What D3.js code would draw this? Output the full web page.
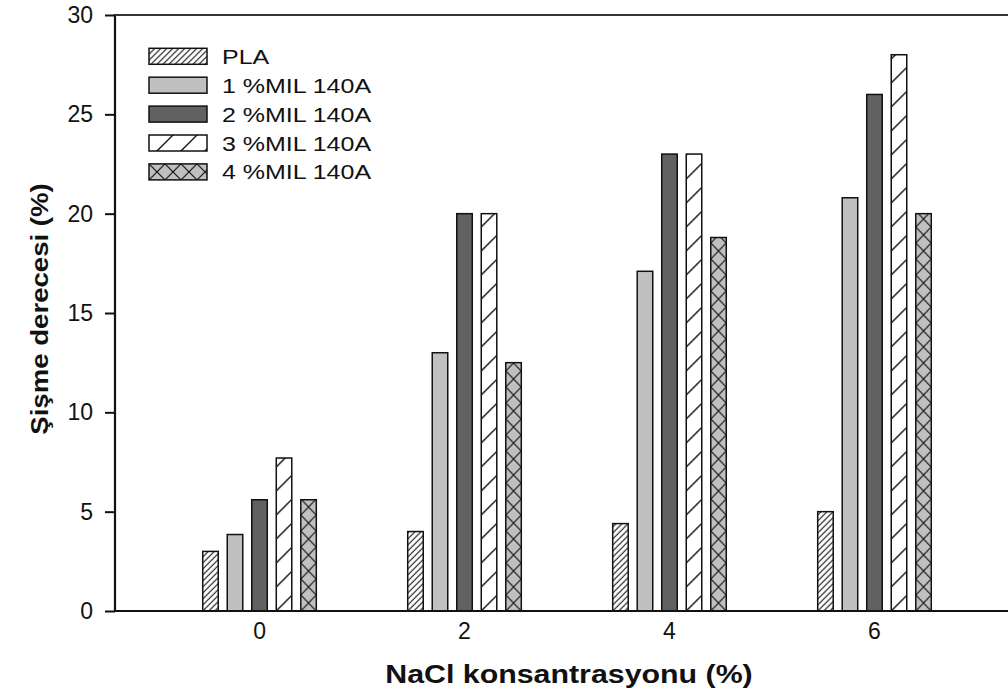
<!DOCTYPE html>
<html>
<head>
<meta charset="utf-8">
<script src="https://cdn.jsdelivr.net/npm/d3@7"></script>
<style>
  html, body { margin: 0; padding: 0; background: #fff; }
  svg { display: block; }
  text { font-family: "Liberation Sans", Arial, sans-serif; fill: #111; }
</style>
</head>
<body>
<svg id="chart" width="1008" height="691"></svg>
<script>
// NaCl concentration groups (x categories)
const categories = ["0", "2", "4", "6"];
// Series names, in legend order
const seriesNames = ["PLA", "1 %MIL 140A", "2 %MIL 140A", "3 %MIL 140A", "4 %MIL 140A"];
// Swelling degree (%) per series, one value per NaCl concentration
const plaValues  = [3.0, 4.0, 4.4, 5.0];
const mil1Values = [3.85, 13.0, 17.1, 20.8];
const mil2Values = [5.6, 20.0, 23.0, 26.0];
const mil3Values = [7.7, 20.0, 23.0, 28.0];
const mil4Values = [5.6, 12.5, 18.8, 20.0];
// Y axis tick values
const yTicks = [0, 5, 10, 15, 20, 25, 30];

const seriesValues = [plaValues, mil1Values, mil2Values, mil3Values, mil4Values];

const svg = d3.select("#chart");
const W = 1008, H = 691;
const plot = { left: 115, right: 1019, top: 15, bottom: 611 };

const x0 = d3.scaleBand()
  .domain(categories)
  .range([plot.left, plot.right])
  .paddingInner(0.446)
  .paddingOuter(0.428);

const x1 = d3.scaleBand()
  .domain(d3.range(seriesNames.length))
  .range([0, x0.bandwidth()])
  .paddingInner(0.367)
  .paddingOuter(0);

const y = d3.scaleLinear().domain([0, 30]).range([plot.bottom, plot.top]);

const defs = svg.append("defs");

// Fill styles per series: hatch kinds
const styles = [
  { kind: "denseHatch" },
  { kind: "solid", fill: "#c0c0c0" },
  { kind: "solid", fill: "#616161" },
  { kind: "sparseHatch" },
  { kind: "cross" }
];

function makePattern(id, kind, ox, oy, tileW) {
  const p = defs.append("pattern")
    .attr("id", id)
    .attr("patternUnits", "userSpaceOnUse")
    .attr("x", ox).attr("y", oy);
  if (kind === "denseHatch") {
    const s = 6;
    p.attr("width", s).attr("height", s);
    p.append("rect").attr("width", s).attr("height", s).attr("fill", "#fff");
    p.append("path")
      .attr("d", `M0,${s} L${s},0 M-1,1 L1,-1 M${s-1},${s+1} L${s+1},${s-1}`)
      .attr("stroke", "#111").attr("stroke-width", 1.1);
  } else if (kind === "sparseHatch") {
    const s = 24;
    p.attr("width", s).attr("height", s);
    p.append("rect").attr("width", s).attr("height", s).attr("fill", "#fff");
    p.append("path")
      .attr("d", `M0,${s} L${s},0 M-2,2 L2,-2 M${s-2},${s+2} L${s+2},${s-2}`)
      .attr("stroke", "#111").attr("stroke-width", 1.4);
  } else if (kind === "cross") {
    const w = tileW, h = 16;
    p.attr("width", w).attr("height", h);
    p.append("rect").attr("width", w).attr("height", h).attr("fill", "#c0c0c0");
    p.append("path")
      .attr("d", `M0,0 L${w},${h} M0,${h} L${w},0`)
      .attr("stroke", "#111").attr("stroke-width", 1.2);
  }
  return `url(#${id})`;
}

function fillFor(si, id, ox, oy, tileW) {
  const st = styles[si];
  if (st.kind === "solid") return st.fill;
  return makePattern(id, st.kind, ox, oy, tileW);
}

// Stretched text helper (text is drawn slightly wider than its font)
function stretchedText(g, x, yPos, str, opts) {
  return g.append("text")
    .attr("transform", `translate(${x},${yPos}) ${opts.rotate ? `rotate(${opts.rotate})` : ""} scale(${opts.sx || 1},1)`)
    .attr("text-anchor", opts.anchor || "start")
    .attr("font-size", opts.size)
    .attr("font-weight", opts.weight || "normal")
    .text(str);
}

// Bars
const barW = x1.bandwidth();
const barsG = svg.append("g");
categories.forEach((cat, ci) => {
  seriesValues.forEach((vals, si) => {
    const bx = x0(cat) + x1(si);
    const by = y(vals[ci]);
    const fill = fillFor(si, `bar-${si}-${ci}`, bx, plot.bottom, barW);
    barsG.append("rect")
      .attr("x", bx).attr("y", by)
      .attr("width", barW).attr("height", plot.bottom - by)
      .attr("fill", fill)
      .attr("stroke", "#111").attr("stroke-width", 1.5);
  });
});

// Y axis
const yAxis = d3.axisLeft(y).tickValues(yTicks).tickSize(10).tickPadding(12);
const yG = svg.append("g").attr("transform", `translate(${plot.left},0)`).call(yAxis);
yG.select(".domain").remove();
yG.selectAll(".tick line").attr("stroke", "#111").attr("stroke-width", 2);
yG.selectAll(".tick text")
  .attr("font-size", 23)
  .attr("font-family", "'Liberation Sans', Arial, sans-serif")
  .attr("fill", "#111");
svg.append("line")
  .attr("x1", plot.left).attr("x2", plot.left)
  .attr("y1", plot.top - 1).attr("y2", plot.bottom + 1)
  .attr("stroke", "#111").attr("stroke-width", 2.2);

// X axis (labels only, no tick marks)
const xAxis = d3.axisBottom(x0).tickSize(0).tickPadding(12);
const xG = svg.append("g").attr("transform", `translate(0,${plot.bottom})`).call(xAxis);
xG.select(".domain").remove();
xG.selectAll(".tick text")
  .attr("font-size", 23)
  .attr("font-family", "'Liberation Sans', Arial, sans-serif")
  .attr("fill", "#111");
svg.append("line")
  .attr("x1", plot.left).attr("x2", W)
  .attr("y1", plot.bottom).attr("y2", plot.bottom)
  .attr("stroke", "#111").attr("stroke-width", 2);

// Top frame line
svg.append("line")
  .attr("x1", plot.left).attr("x2", W)
  .attr("y1", plot.top).attr("y2", plot.top)
  .attr("stroke", "#333").attr("stroke-width", 2);

// Axis titles
stretchedText(svg, 569, 683, "NaCl konsantrasyonu (%)", { size: 25.5, weight: "bold", anchor: "middle", sx: 1.19 });
stretchedText(svg, 48, 309, "Şişme derecesi (%)", { size: 23, weight: "bold", anchor: "middle", sx: 1.2, rotate: -90 });

// Legend
const legend = svg.append("g");
const legX = 149, legY = 48.3, legStep = 28.9, swW = 58, swH = 16;
seriesNames.forEach((name, si) => {
  const ty = legY + si * legStep;
  const fill = fillFor(si, `leg-${si}`, legX, ty, 16);
  legend.append("rect")
    .attr("x", legX).attr("y", ty)
    .attr("width", swW).attr("height", swH)
    .attr("fill", fill)
    .attr("stroke", "#111").attr("stroke-width", 1.5);
  stretchedText(legend, 222, ty + 15.5, name, { size: 21, sx: 1.19 });
});
</script>
</body>
</html>
